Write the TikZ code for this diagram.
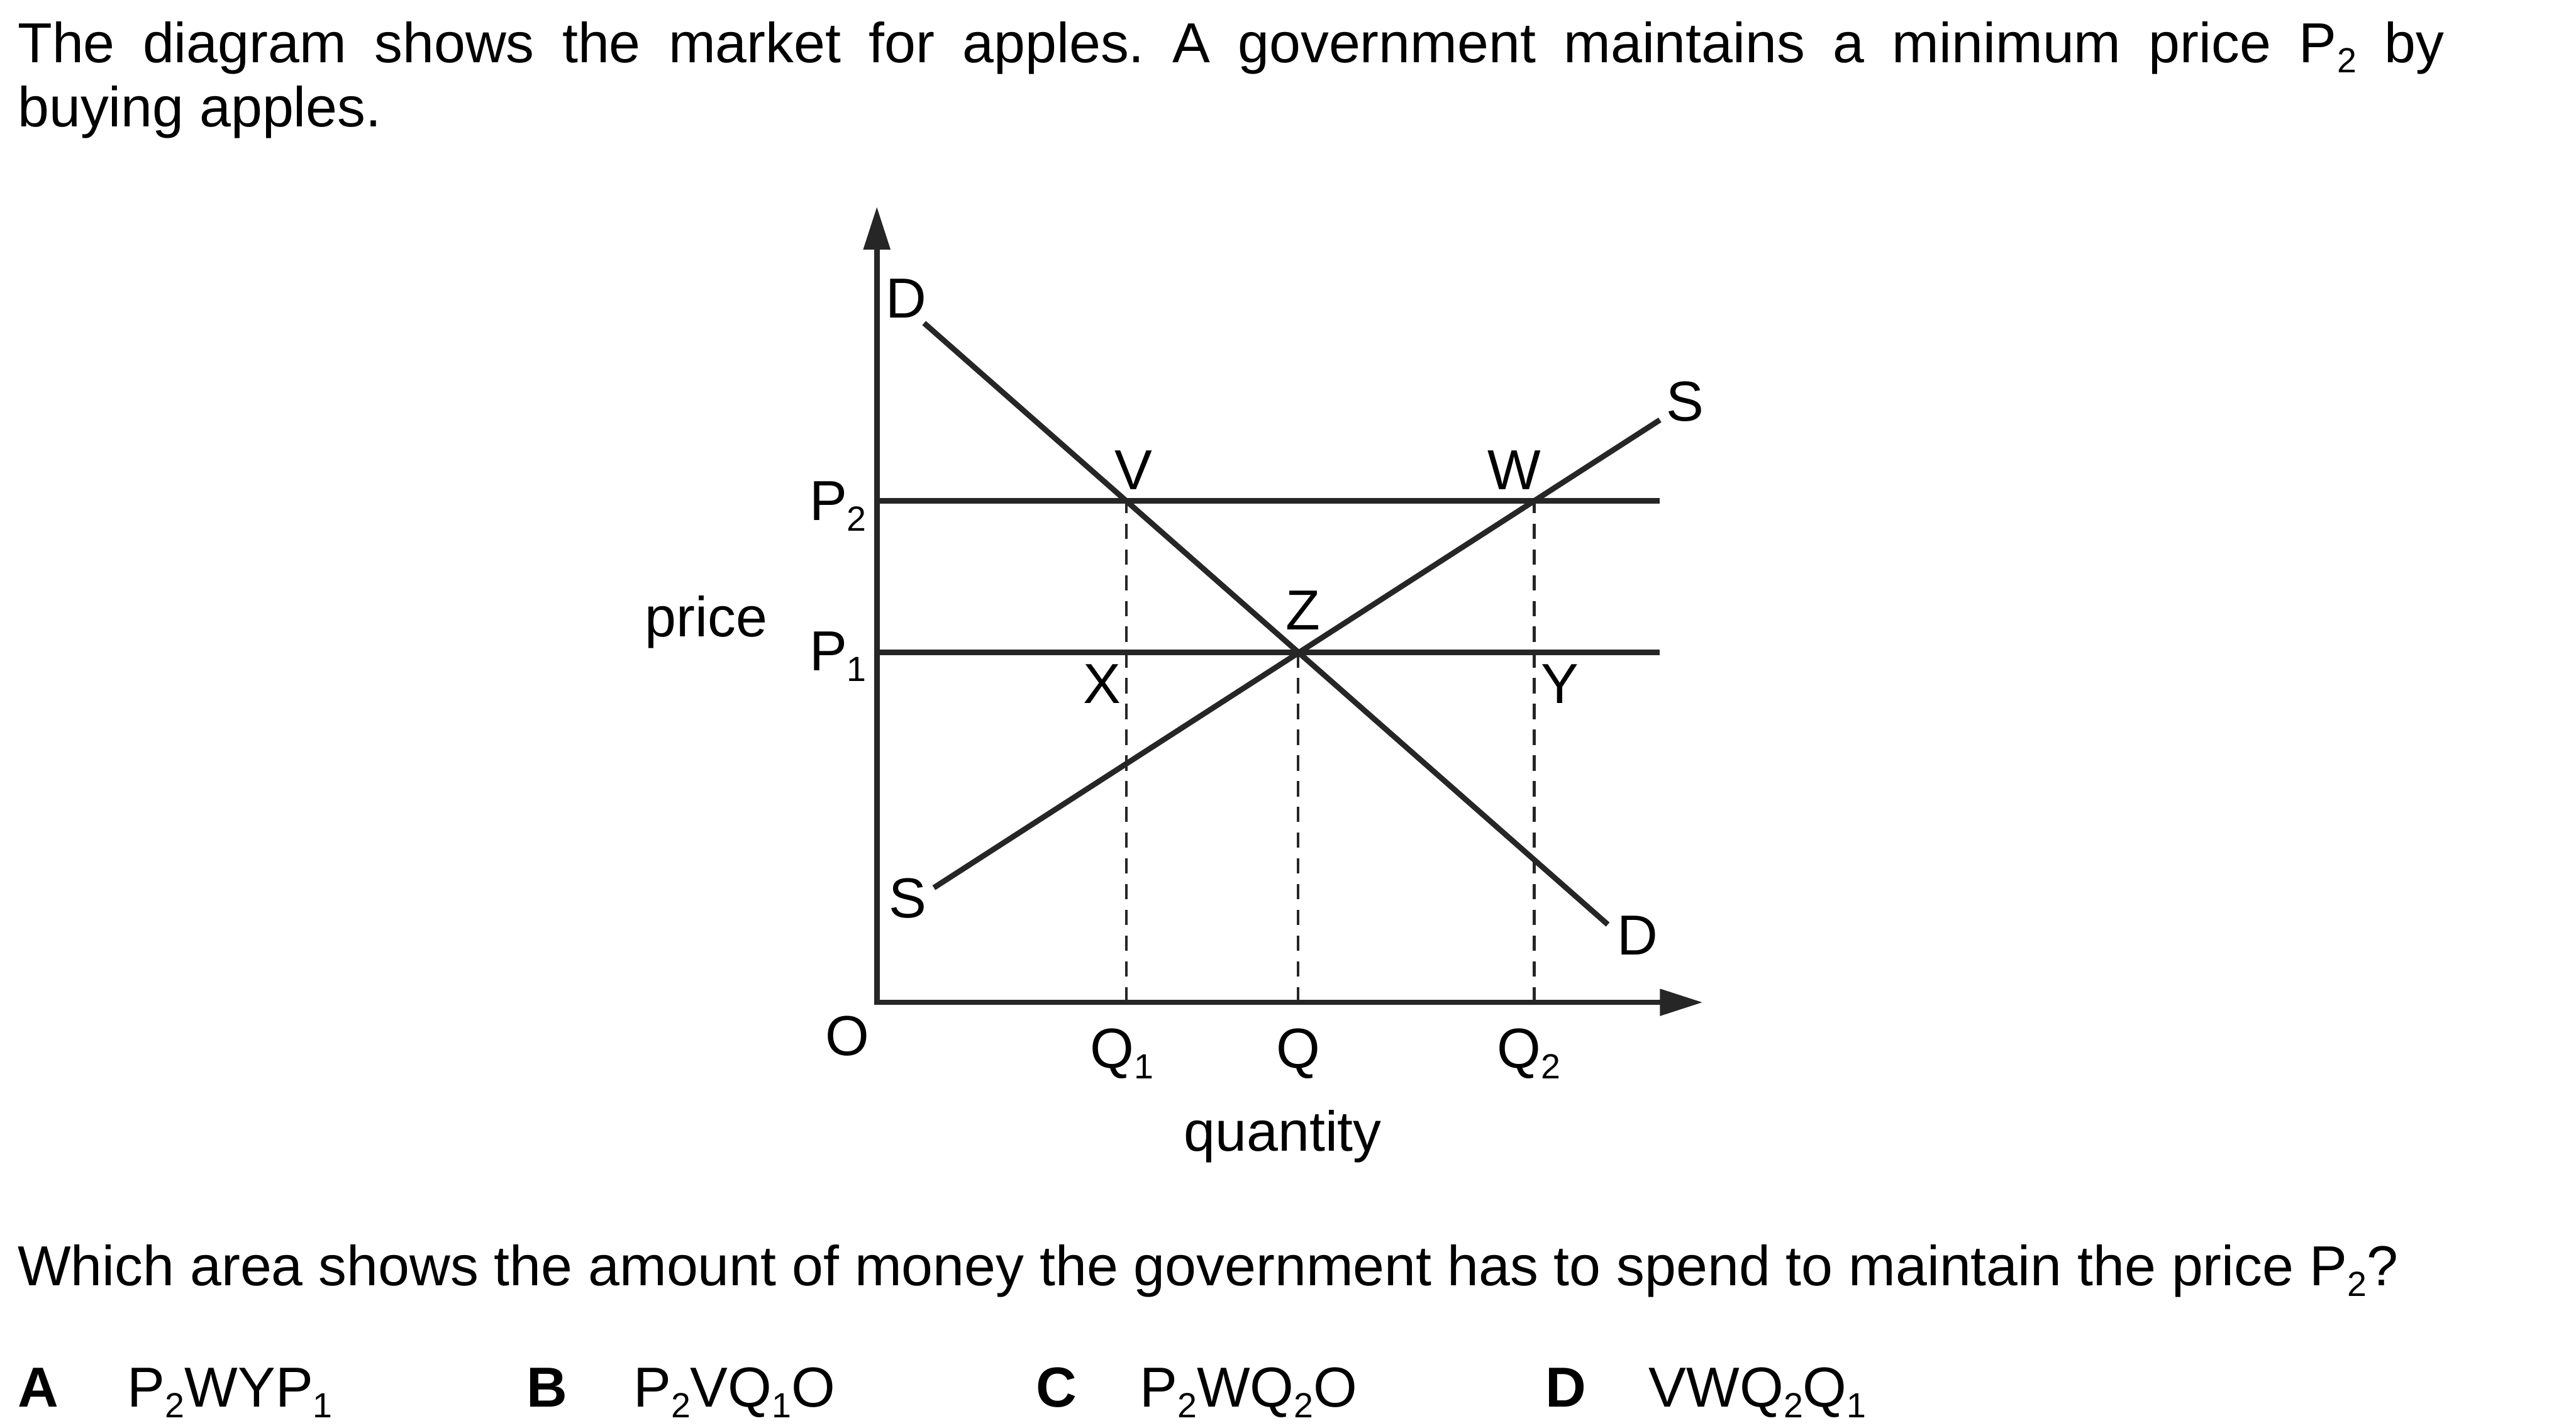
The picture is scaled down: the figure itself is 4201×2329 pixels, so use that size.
\documentclass[tikz,border=0pt]{standalone}
\usepackage{fontspec}
\setmainfont{Liberation Sans}
\usepackage{xcolor}
\usepackage{tikz}
\usetikzlibrary{arrows.meta,positioning}
\frenchspacing
\definecolor{ink}{HTML}{262626}
\newcommand{\lowidx}[1]{\raisebox{-1.7pt}{\fontsize{5.7}{6}\selectfont #1}}
\tikzset{
  txt/.style={inner sep=0pt, anchor=base west, font=\fontsize{9.2}{10.5}\selectfont},
  lbl/.style={txt, anchor=base},
  curve/.style={ink, line width=0.9pt},
  guide/.style={ink, line width=0.45pt, dash pattern=on 2.5pt off 1.7pt},
  axis/.style={curve, {Triangle[length=7pt,width=4.2pt]}-{Triangle[length=7pt,width=4.2pt]}}
}

\begin{document}
\begin{tikzpicture}[x=0.1pt, y=-0.1pt]
  \useasboundingbox (0,0) rectangle (4201,2329);
  \node[txt, align=left] (intro) at (27,207) {\makebox[395.7pt][s]{The diagram shows the market for apples. A government maintains a minimum price P\lowidx{2} by}\\buying apples.};

  \coordinate (ytip) at (1430,337);
  \coordinate (xtip) at (2777,1635);
  \coordinate (p2a) at (1430,817);
  \coordinate (p2b) at (2707,817);
  \coordinate (p1a) at (1430,1064);
  \coordinate (p1b) at (2707,1064);
  \coordinate (d1) at (1507,527);
  \coordinate (d2) at (2622,1508);
  \coordinate (s1) at (1523,1448);
  \coordinate (s2) at (2707,685);
  \coordinate (v) at (1837,817);
  \coordinate (z) at (2117,1064);
  \coordinate (w) at (2502,817);
  \coordinate (q1) at (1837,1635);
  \coordinate (q) at (2117,1635);
  \coordinate (q2) at (2502,1635);

  \draw[guide] (q1) -- (v);
  \draw[guide] (q) -- (z);
  \draw[guide] (q2) -- (w);
  \draw[curve] (p2a) -- (p2b);
  \draw[curve] (p1a) -- (p1b);
  \draw[curve] (d1) -- (d2);
  \draw[curve] (s1) -- (s2);
  \draw[axis] (ytip) |- (xtip);

  \node[lbl] (dtop) at (1478,519) {D};
  \node[lbl] (dbot) at (2671,1557) {D};
  \node[lbl] (stop) at (2748,687) {S};
  \node[lbl] (sbot) at (1480,1497) {S};
  \node[lbl] (vlbl) at (1849,798) {V};
  \node[lbl] (wlbl) at (2470,798) {W};
  \node[lbl] (zlbl) at (2125,1027) {Z};
  \node[lbl] (xlbl) at (1797,1147) {X};
  \node[lbl] (ylbl) at (2544,1147) {Y};
  \node[txt] (p2lbl) at (1318,849) {P\lowidx{2}};
  \node[txt] (p1lbl) at (1318,1094) {P\lowidx{1}};
  \node[txt] (price) at (1050,1038) {price};
  \node[lbl] (olbl) at (1382,1722) {O};
  \node[txt] (q1lbl) at (1776,1742) {Q\lowidx{1}};
  \node[lbl] (qlbl) at (2117,1742) {Q};
  \node[txt] (q2lbl) at (2440,1742) {Q\lowidx{2}};
  \node[lbl] (qty) at (2092,1877) {quantity};

  \node[txt] (ask) at (27,2097) {Which area shows the amount of money the government has to spend to maintain the price P\lowidx{2}?};
  \node[txt] (optA) at (27,2295) {\textbf{A}};
  \node[txt] (ansA) at (206,2295) {P\lowidx{2}WYP\lowidx{1}};
  \node[txt] (optB) at (857,2295) {\textbf{B}};
  \node[txt] (ansB) at (1031,2295) {P\lowidx{2}VQ\lowidx{1}O};
  \node[txt] (optC) at (1688,2295) {\textbf{C}};
  \node[txt] (ansC) at (1857,2295) {P\lowidx{2}WQ\lowidx{2}O};
  \node[txt] (optD) at (2518,2295) {\textbf{D}};
  \node[txt] (ansD) at (2687,2295) {VWQ\lowidx{2}Q\lowidx{1}};
\end{tikzpicture}
\end{document}
